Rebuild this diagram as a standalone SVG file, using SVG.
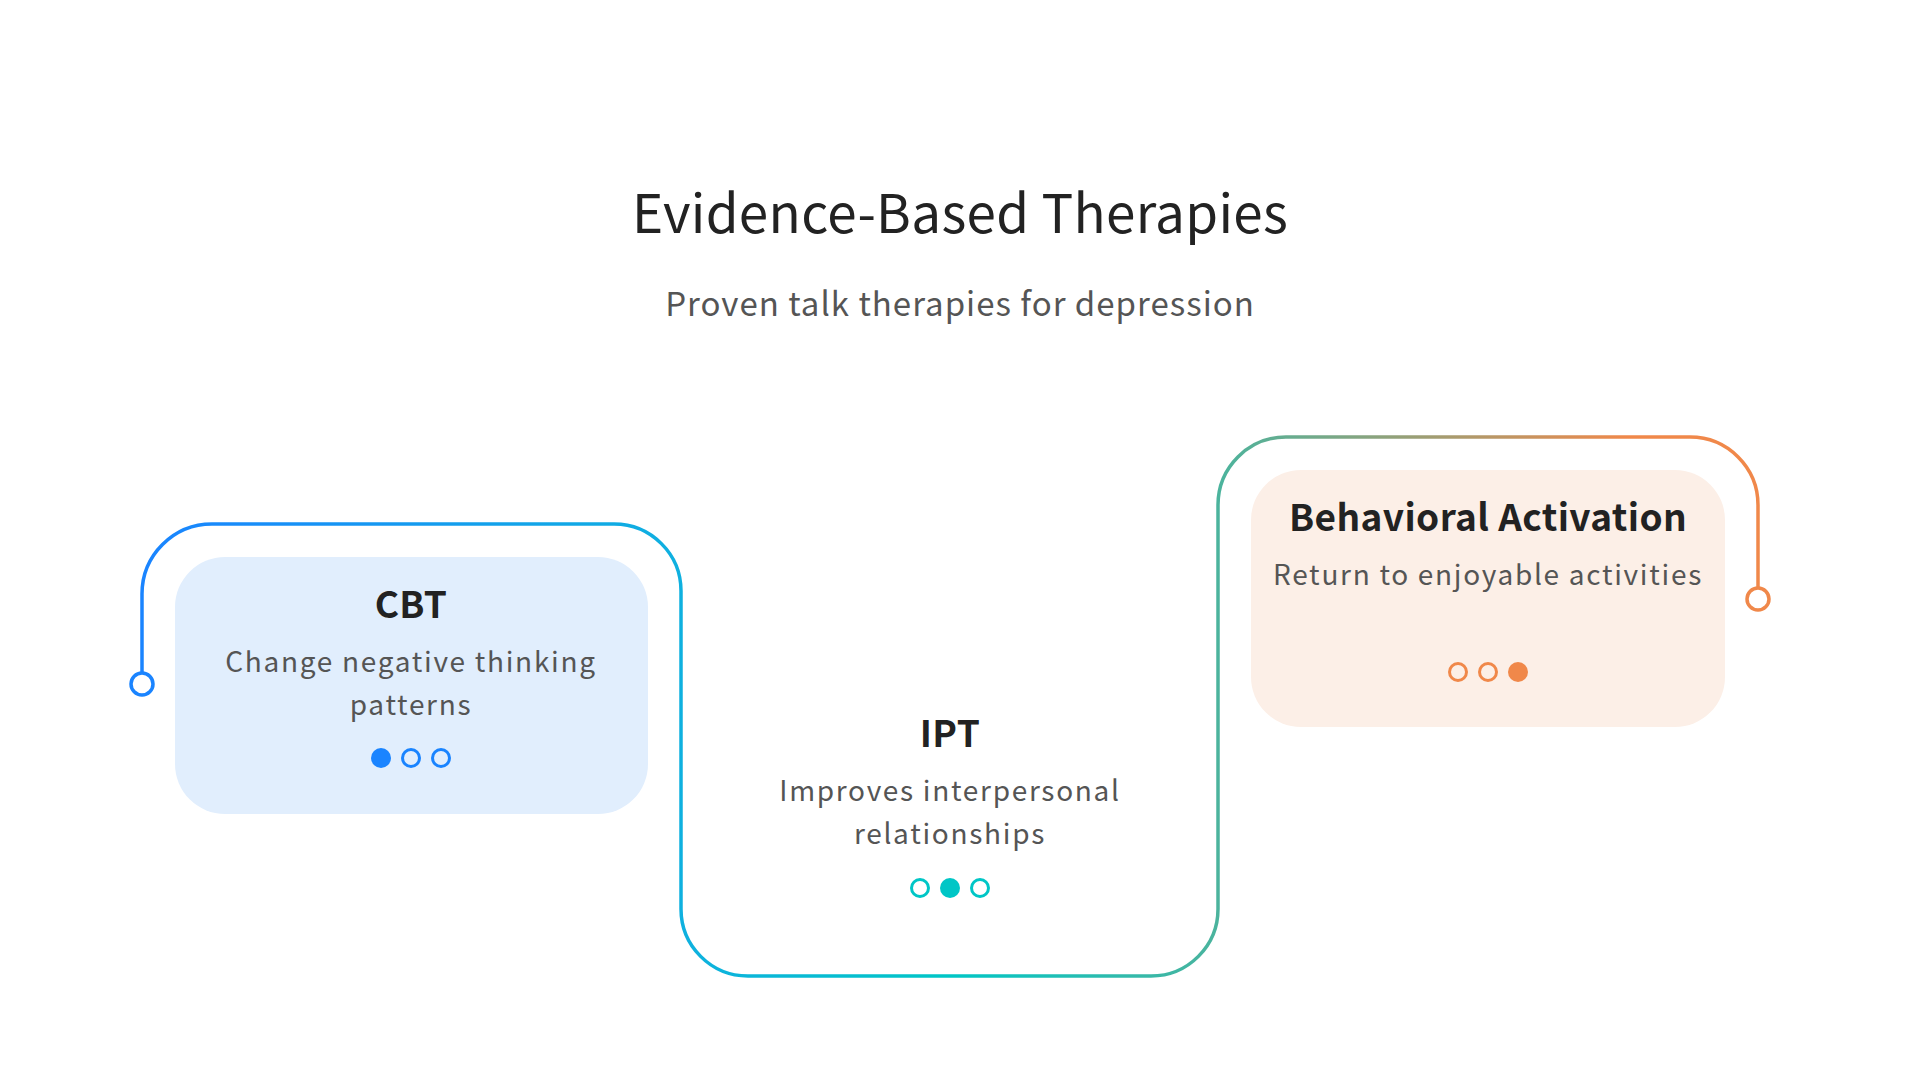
<svg xmlns="http://www.w3.org/2000/svg" width="1920" height="1080" viewBox="0 0 1920 1080">
<defs>
<linearGradient id="flow" gradientUnits="userSpaceOnUse" x1="142" y1="0" x2="1758" y2="0">
<stop offset="0" stop-color="#1a84ff"/>
<stop offset="0.33" stop-color="#0fb0e0"/>
<stop offset="0.5" stop-color="#00c6c6"/>
<stop offset="0.67" stop-color="#4db39c"/>
<stop offset="0.92" stop-color="#f0884a"/>
<stop offset="1" stop-color="#f0884a"/>
</linearGradient>
<style>
.title{font-family:"Noto Sans CJK SC","Noto Sans",sans-serif;fill:#222;text-anchor:middle}
.sub{font-family:"Noto Sans CJK SC","Noto Sans",sans-serif;fill:#555;text-anchor:middle}
.h{font-family:"Noto Sans CJK SC","Noto Sans",sans-serif;font-weight:700;font-size:37px;fill:#222;text-anchor:middle;letter-spacing:0.4px}
.d{font-family:"Noto Sans CJK SC","Noto Sans",sans-serif;font-size:28px;fill:#555;text-anchor:middle;letter-spacing:1.7px}
.ring{fill:none;stroke-width:3}
</style>
</defs>
<rect width="1920" height="1080" fill="#fff"/>
<text class="title" x="960" y="233" font-size="53" letter-spacing="0.3">Evidence-Based Therapies</text>
<text class="sub" x="960" y="316" font-size="33" letter-spacing="1">Proven talk therapies for depression</text>

<g id="connectors">
<path d="M142,673 V594 A70,70 0 0 1 212,524 H614 A67,67 0 0 1 681,591 V909 A67,67 0 0 0 748,976 H1151 A67,67 0 0 0 1218,909 V505 A68,68 0 0 1 1286,437 H1690 A68,68 0 0 1 1758,505 V588" fill="none" stroke="url(#flow)" stroke-width="3.5"/>
<circle cx="142" cy="684" r="11" fill="#fff" stroke="#1a84ff" stroke-width="3.5"/>
<circle cx="1758" cy="599" r="11" fill="#fff" stroke="#f0884a" stroke-width="3.5"/>
</g>

<g id="cbt">
<rect x="175" y="557" width="473" height="257" rx="50" fill="#e1eefd"/>
<text class="h" x="411" y="618">CBT</text>
<text class="d" x="411" y="672">Change negative thinking</text>
<text class="d" x="411" y="715">patterns</text>
<circle cx="381" cy="758" r="10" fill="#1a84ff"/>
<circle class="ring" cx="411" cy="758" r="8.5" stroke="#1a84ff"/>
<circle class="ring" cx="441" cy="758" r="8.5" stroke="#1a84ff"/>
</g>

<g id="ipt">
<text class="h" x="950" y="747">IPT</text>
<text class="d" x="950" y="801">Improves interpersonal</text>
<text class="d" x="950" y="844">relationships</text>
<circle class="ring" cx="920" cy="888" r="8.5" stroke="#00c6c6"/>
<circle cx="950" cy="888" r="10" fill="#00c6c6"/>
<circle class="ring" cx="980" cy="888" r="8.5" stroke="#00c6c6"/>
</g>

<g id="ba">
<rect x="1251" y="470" width="474" height="257" rx="50" fill="#fcefe7"/>
<text class="h" x="1488" y="531">Behavioral Activation</text>
<text class="d" x="1488" y="585">Return to enjoyable activities</text>
<circle class="ring" cx="1458" cy="672" r="8.5" stroke="#f0884a"/>
<circle class="ring" cx="1488" cy="672" r="8.5" stroke="#f0884a"/>
<circle cx="1518" cy="672" r="10" fill="#f0884a"/>
</g>
</svg>
